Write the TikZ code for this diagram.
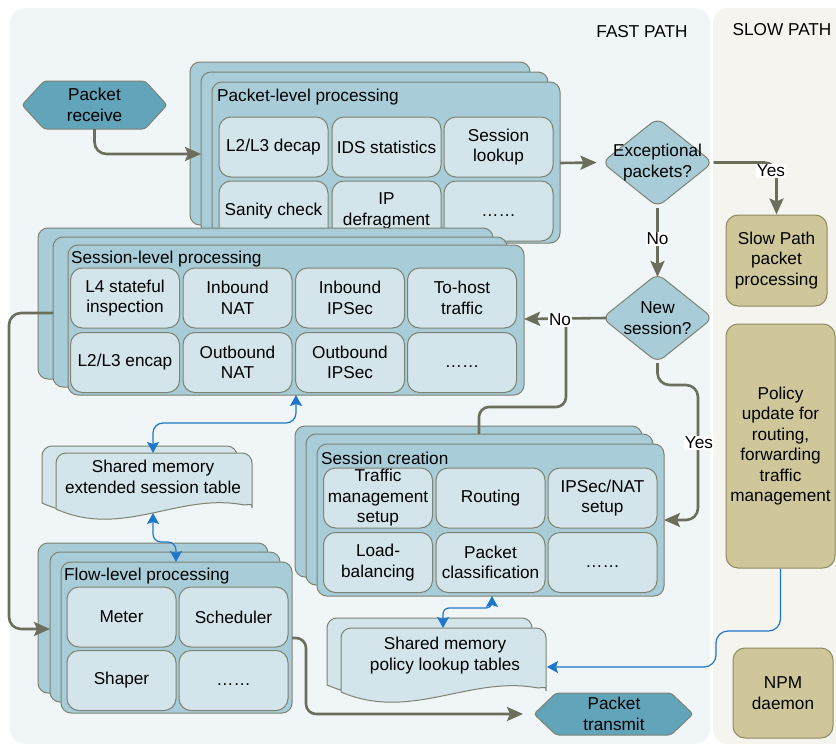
\documentclass[tikz,border=0pt]{standalone}
\usepackage{fontspec}
\setmainfont{Liberation Sans}
\usetikzlibrary{arrows.meta,shapes.geometric}
\definecolor{fastbg}{HTML}{F0F5F8}
\definecolor{slowbg}{HTML}{F5F4EF}
\definecolor{cont}{HTML}{A8CDD8}
\definecolor{cellc}{HTML}{D3E4EA}
\definecolor{hexc}{HTML}{62A4B9}
\definecolor{bord}{HTML}{7D8272}
\definecolor{darr}{HTML}{6B6E5A}
\definecolor{barr}{HTML}{1E77C9}
\definecolor{khaki}{HTML}{CFC699}
\definecolor{khakib}{HTML}{8E8A63}
\newcommand\mydoc[4]{%
  \draw[docbox] (#1,#4) [rounded corners=10pt] -- (#1,#2) -- (#3,#2) -- (#3,#4-8) [sharp corners]
    .. controls (#3,#4-2) .. (#3-8,#4-1)
    .. controls ({#3-0.37*(#3-#1)},#4-14) and ({#1+0.34*(#3-#1)},#4+33) .. (#1,#4+3) -- cycle;}
\newcommand\mydots{\raisebox{-5pt}[0pt][0pt]{……}}
\begin{document}
\begin{tikzpicture}[x=1pt,y=-1pt,
  every node/.style={font=\fontsize{17.2}{20.5}\selectfont},
  stackbox/.style={draw=bord, fill=cont, line width=1pt, rounded corners=10pt},
  cell/.style={draw=bord, fill=cellc, line width=1pt, rounded corners=12pt, minimum width=109pt, minimum height=60pt, inner sep=0pt, align=center},
  docbox/.style={draw=bord, fill=cellc, line width=1pt},
  hexa/.style={draw=bord, fill=hexc, line width=1pt, rounded corners=3pt},
  dia/.style={shape=diamond, draw=bord, fill=cont, line width=1pt, minimum width=111pt, minimum height=89pt, inner sep=0pt, rounded corners=8pt},
  kbox/.style={draw=khakib, fill=khaki, line width=1pt, rounded corners=12pt, inner sep=0pt, align=center},
  txt/.style={align=center, inner sep=0pt},
  ttl/.style={anchor=west, inner sep=0pt},
  lbl/.style={fill=white, inner sep=1pt},
  darrow/.style={draw=darr, line width=2.6pt, -{Stealth[length=16pt,width=14pt,inset=3pt]}},
  dline/.style={draw=darr, line width=2.6pt},
  barrow/.style={draw=barr, line width=1.2pt, {Stealth[length=11pt,width=12pt,inset=2pt]}-{Stealth[length=11pt,width=12pt,inset=2pt]}},
  barrowone/.style={draw=barr, line width=1.2pt, -{Stealth[length=11pt,width=12pt,inset=2pt]}}
]
\useasboundingbox (0,0) rectangle (836,744);
\begin{scope}
\clip (0,0) rectangle (836,744);
\fill[fastbg, rounded corners=15pt] (10,8) rectangle (710,744);
\fill[slowbg, rounded corners=15pt] (713,8) rectangle (860,744);
\end{scope}
\node (fast) at (642,32) {FAST PATH};
\node (slow) at (782,30) {SLOW PATH};

% Packet receive
\draw[hexa] (22,105) -- (44,81) -- (145,81) -- (167,105) -- (145,129) -- (44,129) -- cycle;
\node[txt] (recv) at (94.5,105) {Packet\\receive};
\coordinate (recvS) at (94.5,129);

% Packet-level processing
\draw[stackbox] (190,62) rectangle (530,225);
\draw[stackbox] (201,72) rectangle (548,235);
\draw[stackbox] (212,82) rectangle (560,243);
\node[ttl] (plt) at (217,97) {Packet-level processing};
\node[cell] (pl1) at (273.5,147) {L2/L3 decap};
\node[cell] (pl2) at (386.5,147) {IDS statistics};
\node[cell] (pl3) at (498.5,147) {Session\\lookup};
\node[cell] (pl4) at (273.5,211) {Sanity check};
\node[cell] (pl5) at (386.5,211) {IP\\defragment};
\node[cell] (pl6) at (498.5,211) {\mydots};
\coordinate (plmidW) at (201,154);
\coordinate (plfrontE) at (560,163);

% Session-level processing
\draw[stackbox] (38,228) rectangle (493,379);
\draw[stackbox] (53,237) rectangle (507,387);
\draw[stackbox] (68,245) rectangle (524,395);
\node[ttl] (slt) at (71,259) {Session-level processing};
\node[cell] (sl1) at (125,298) {L4 stateful\\inspection};
\node[cell] (sl2) at (237.5,298) {Inbound\\NAT};
\node[cell] (sl3) at (350,298) {Inbound\\IPSec};
\node[cell] (sl4) at (462,298) {To-host\\traffic};
\node[cell] (sl5) at (125,362.5) {L2/L3 encap};
\node[cell] (sl6) at (237.5,362.5) {Outbound\\NAT};
\node[cell] (sl7) at (350,362.5) {Outbound\\IPSec};
\node[cell] (sl8) at (462,362.5) {\mydots};
\coordinate (slfrontE) at (524,319);
\coordinate (slmidW) at (53,313);
\coordinate (slfrontS) at (296,395);

% Shared memory extended session table
\mydoc{42}{446}{237}{500}
\mydoc{56}{453}{252}{506}
\node[txt] (ext) at (153,477) {Shared memory\\extended session table};
\coordinate (extN) at (153,453);
\coordinate (extS) at (153,513);

% Flow-level processing
\draw[stackbox] (38,543) rectangle (268,693);
\draw[stackbox] (50,552) rectangle (280,702);
\draw[stackbox] (61,562) rectangle (292,713);
\node[ttl] (flt) at (64,576) {Flow-level processing};
\node[cell] (fl1) at (121.5,617) {Meter};
\node[cell] (fl2) at (233.5,617) {Scheduler};
\node[cell] (fl3) at (121.5,680.5) {Shaper};
\node[cell] (fl4) at (233.5,680.5) {\mydots};
\coordinate (flmidW) at (50,629);
\coordinate (flfrontE) at (292,638);
\coordinate (flfrontN) at (176,562);

% Session creation
\draw[stackbox] (295,426) rectangle (642,577);
\draw[stackbox] (306,434) rectangle (653,585);
\draw[stackbox] (317,444) rectangle (664,596);
\node[ttl] (sct) at (321,458) {Session creation};
\node[cell] (sc1) at (378,498) {Traffic\\management\\setup};
\node[cell] (sc2) at (490.5,498) {Routing};
\node[cell] (sc3) at (602.5,498) {IPSec/NAT\\setup};
\node[cell] (sc4) at (378,562.5) {Load-\\balancing};
\node[cell] (sc5) at (490.5,562.5) {Packet\\classification};
\node[cell] (sc6) at (602.5,562.5) {\mydots};
\coordinate (scmidN) at (479,434);
\coordinate (scfrontE) at (664,520);
\coordinate (scfrontS) at (492,596);

% Shared memory policy lookup tables
\mydoc{327}{618}{532}{682}
\mydoc{341}{628}{546}{689}
\node[txt] (pol) at (445,655.5) {Shared memory\\policy lookup tables};
\coordinate (polN) at (443,628);
\coordinate (polE) at (547,667);

% Packet transmit
\draw[hexa] (534,714) -- (556,693) -- (671,693) -- (693,714) -- (671,735) -- (556,735) -- cycle;
\node[txt] (tx) at (614,714) {Packet\\transmit};
\coordinate (txW) at (523,714);

% Decisions
\node[dia] (exc) at (657.5,162.5) {};
\node[txt] (exct) at (exc.center) {Exceptional\\packets?};
\node[dia] (news) at (657.5,318) {};
\node[txt] (newst) at (news.center) {New\\session?};

% Slow path boxes
\node[kbox, minimum width=101pt, minimum height=91pt] (slowp) at (776.5,260.5) {Slow Path\\packet\\processing};
\node[kbox, minimum width=109pt, minimum height=244pt] (polu) at (780.5,446) {Policy\\update for\\routing,\\forwarding\\traffic\\management};
\node[kbox, minimum width=100pt, minimum height=90pt] (npm) at (783,693) {NPM\\daemon};

% Dark connectors
\draw[darrow, rounded corners=12pt] (recvS) -- (recvS |- plmidW) -- (plmidW);
\draw[darrow] (plfrontE) -- ([xshift=-5pt]exc.west);
\draw[darrow, rounded corners=12pt] (exc.east) -- (slowp.north |- exc.east) -- (slowp.north);
\node[lbl] (yes1) at (771,171) {Yes};
\draw[darrow] (exc.south) -- ([yshift=-4pt]news.north);
\node[lbl] (no1) at (657.5,239) {No};
\draw[dline, rounded corners=10pt] (566,319) -- (566,407) -- (scmidN |- 566,407) -- (scmidN);
\draw[darrow] ([xshift=5pt]news.west) -- (slfrontE);
\node[lbl] (no2) at (560,320) {No};
\draw[darrow, rounded corners=12pt] (news.south) -- (657.5,385) -- (698,385) -- (698,520) -- (scfrontE);
\node[lbl] (yes2) at (699,443) {Yes};
\draw[darrow, rounded corners=12pt] (slmidW) -- (9,313) -- (9,629) -- (flmidW);
\draw[darrow, rounded corners=10pt] (flfrontE) -- (306,638) -- (306,714) -- (txW);

% Blue connectors
\draw[barrow, rounded corners=10pt] (slfrontS) -- (296,423) -- (153,423) -- (extN);
\draw[barrow, rounded corners=8pt] (extS) -- (153,542) -- (176,542) -- (flfrontN);
\draw[barrow, rounded corners=6pt] (scfrontS) -- (492,608) -- (443,608) -- (polN);
\draw[barrowone, rounded corners=12pt] (polu.south) -- (780.5,631) -- (716,631) -- (716,667) -- (polE);
\end{tikzpicture}
\end{document}
